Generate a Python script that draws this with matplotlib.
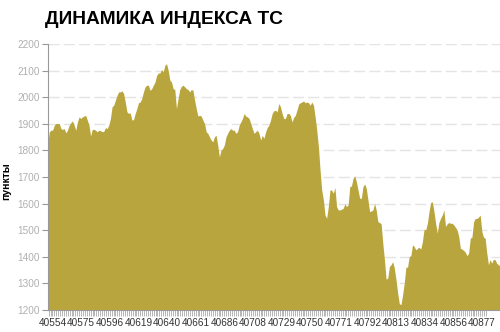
import numpy as np
import matplotlib
matplotlib.use('Agg')
import matplotlib.pyplot as plt

# Index readings, Jan - Nov (trading days)
values_start = [1826, 1870, 1876, 1876, 1895, 1901, 1901, 1901, 1882, 1879,
                1882, 1866, 1876, 1895, 1904, 1911, 1895, 1876, 1907, 1926,
                1920, 1926, 1929, 1932, 1914, 1895, 1854, 1879, 1879, 1876,
                1870, 1876, 1874, 1870, 1872, 1886, 1882, 1895, 1920, 1964,
                1970, 1989, 2007, 2020, 2020, 2024, 2014, 1982, 1945, 1939,
                1941, 1914, 1916, 1939, 1957, 1979, 1982, 1995, 2020, 2039,
                2045, 2045, 2026, 2032, 2045, 2057, 2082, 2091, 2091, 2104,
                2095]
values_middle = [2120, 2126, 2101, 2064, 2057, 2032, 2029, 1957, 1995, 2029,
                 2041, 2045, 2039, 2032, 2029, 2020, 2029, 2026, 1989, 1957,
                 1929, 1932, 1929, 1914, 1901, 1870, 1864, 1851, 1839, 1832,
                 1851, 1857, 1820, 1776, 1801, 1807, 1820, 1851, 1864, 1876,
                 1882, 1876, 1876, 1864, 1870, 1895, 1907, 1920, 1939, 1929,
                 1926, 1920, 1901, 1882, 1864, 1870, 1876, 1864, 1839, 1857,
                 1845, 1870, 1886, 1895, 1914, 1939, 1949, 1951, 1945, 1976,
                 1964, 1939, 1920, 1920, 1939, 1939, 1932, 1907, 1924, 1932,
                 1951, 1974, 1979, 1982, 1986, 1979, 1982, 1979, 1970, 1982,
                 1970, 1926, 1876, 1814, 1726, 1651, 1614, 1557, 1545, 1589,
                 1651]
values_end = [1651, 1639, 1661, 1589, 1576, 1576, 1579, 1582, 1599, 1589,
              1595, 1664, 1666, 1695, 1704, 1682, 1651, 1620, 1620, 1664,
              1674, 1657, 1614, 1570, 1572, 1576, 1601, 1576, 1532, 1529,
              1524, 1451, 1389, 1316, 1320, 1364, 1370, 1382, 1357, 1314,
              1264, 1224, 1220, 1257, 1301, 1361, 1361, 1401, 1404, 1445,
              1439, 1426, 1432, 1436, 1429, 1457, 1504, 1501, 1526, 1570,
              1604, 1607, 1570, 1526, 1489, 1529, 1545, 1557, 1576, 1514,
              1524, 1529, 1526, 1526, 1520, 1511, 1501, 1476, 1432, 1429,
              1424, 1417, 1404, 1414, 1470, 1474, 1532, 1544, 1544, 1549,
              1557, 1495, 1474, 1470, 1414, 1370, 1389, 1376, 1391, 1389,
              1376, 1370, 1366]

# Excel date serials shown under the axis, one every 15 trading days
date_labels = ['40554', '40575', '40596', '40619', '40640', '40661', '40686', '40708',
               '40729', '40750', '40771', '40792', '40813', '40834', '40856', '40877']

values = np.array(values_start + values_middle + values_end)
# readings spread evenly over the trading-day axis
days = np.linspace(-2.5, 234.4, len(values))

plt.rcParams['font.family'] = ['Liberation Sans', 'DejaVu Sans']

fig = plt.figure(figsize=(5, 3.32), dpi=100)
ax = fig.add_axes([47.7 / 500, 1 - 310 / 332, 1 - 47.7 / 500, 266 / 332])

ax.fill_between(days, 1200, values, color='#b9a53d', linewidth=0, zorder=3)

ax.set_xlim(-2.5, 234.4)
ax.set_ylim(1200, 2200)
ax.set_yticks(np.arange(1200, 2201, 100))
ax.yaxis.grid(True, color='#e4e4e4', linestyle=(0, (8, 3)), linewidth=1, zorder=0)
ax.set_axisbelow(True)

ax.set_xticks(np.arange(len(date_labels)) * 15)
ax.set_xticklabels(date_labels)
ax.set_xticks(np.arange(-2, 228), minor=True)

for side in ['top', 'right']:
    ax.spines[side].set_visible(False)
ax.spines['left'].set_color('#999999')
ax.spines['bottom'].set_color('#999999')
ax.spines['left'].set_zorder(4)
ax.spines['bottom'].set_zorder(4)

ax.tick_params(axis='y', colors='#999999', labelcolor='#b0b0b0', labelsize=7.2,
               length=4, width=0.8, pad=1.5)
ax.tick_params(axis='x', which='major', colors='#aaaaaa', labelcolor='#333333',
               labelsize=7.2, length=4, width=0.6, pad=2)
ax.tick_params(axis='x', which='minor', colors='#aaaaaa', length=4, width=0.6)

fig.text(45 / 500, 1 - 24 / 332, 'ДИНАМИКА ИНДЕКСА ТС', fontsize=13.8,
         fontweight='bold', color='black', va='baseline', ha='left')
fig.text(6 / 500, 1 - 181 / 332, 'пункты', fontsize=7.5, fontweight='bold',
         rotation=90, va='center', ha='center', color='black')

fig.savefig('out.png', dpi=100)
